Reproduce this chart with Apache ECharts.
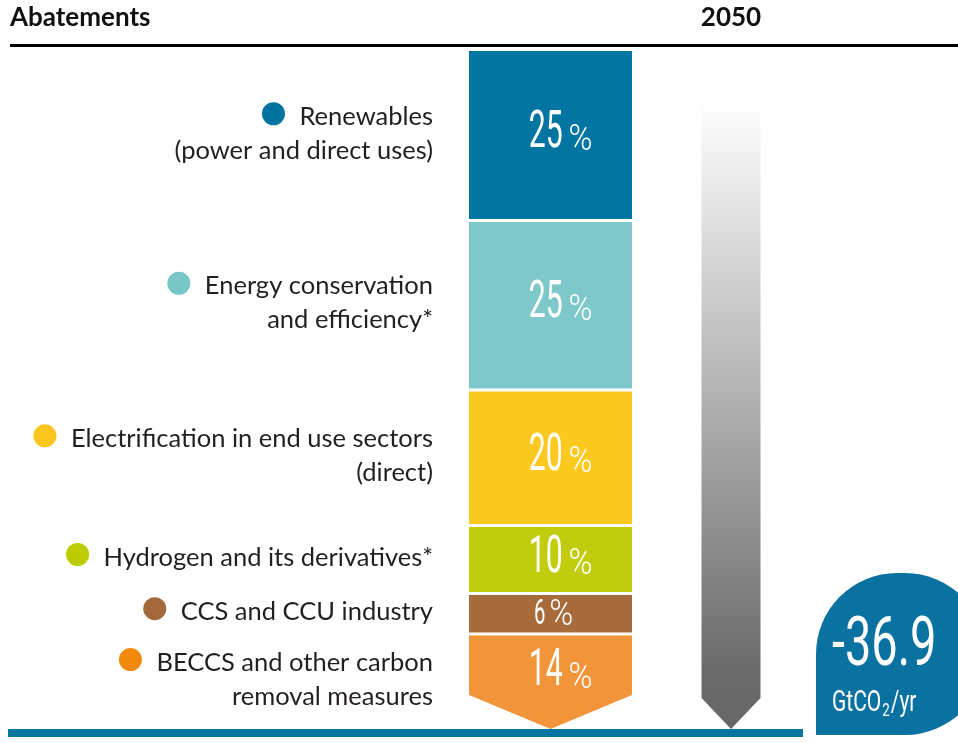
<!DOCTYPE html>
<html><head><meta charset="utf-8">
<script src="https://cdn.jsdelivr.net/npm/echarts@6/dist/echarts.min.js"></script>
<style>html,body{margin:0;padding:0;background:#fff;}#chart{width:958px;height:743px;}</style>
</head><body><div id="chart"></div>
<script>
// ---- data ----
const categories = [
  'Renewables\n(power and direct uses)',
  'Energy conservation\nand efficiency*',
  'Electrification in end use sectors\n(direct)',
  'Hydrogen and its derivatives*',
  'CCS and CCU industry',
  'BECCS and other carbon\nremoval measures'
];
const shares = [25, 25, 20, 10, 6, 14];
const barColors = ['#0175a2', '#7ec8c9', '#fdc91e', '#c1cd0c', '#a86b3b', '#f29439'];
const dotColors = ['#0073a0', '#79c6c7', '#fcc51d', '#bdcc00', '#a3683b', '#f18a0c'];
const headerLeft = 'Abatements';
const yearLabel = '2050';
const totalValue = '-36.9';
const totalUnit = ['GtCO', '2', '/yr'];

// ---- helpers ----
const cumStart = []; let acc = 0;
shares.forEach(s => { cumStart.push(acc); acc += s; });
const segData = shares.map((s, i) => [0, cumStart[i], cumStart[i] + s, i]);

const mctx = document.createElement('canvas').getContext('2d');
function tw(text, size, family, weight) {
  mctx.font = (weight || 'normal') + ' ' + size + 'px ' + family;
  return mctx.measureText(text).width;
}
const TEXT = '#231f20';
const LABEL_FAMILY = 'Lato';
const LABEL_SIZE = 25.5;
const NUM_FAMILY = 'Roboto';
const CH = 34; // chevron height

function renderSeg(params, api) {
  const i = api.value(3);
  const p0 = api.coord([0, api.value(1)]);
  const p1 = api.coord([0, api.value(2)]);
  const bw = api.size([1, 0])[0];
  const cx = p0[0], x0 = cx - bw / 2, x1 = cx + bw / 2;
  const last = i === shares.length - 1;
  const top = p0[1] + (i > 0 ? 1.5 : 0);
  const bot = p1[1] - (last ? 0 : 1.5);
  const children = [];
  if (last) {
    children.push({type: 'polygon', shape: {points: [[x0, top], [x1, top], [x1, bot - CH], [cx, bot], [x0, bot - CH]]},
      style: {fill: barColors[i]}});
  } else {
    children.push({type: 'rect', shape: {x: x0, y: top, width: bw, height: bot - top}, style: {fill: barColors[i]}});
  }
  // percent label
  const small = (bot - top) < 50;
  const dSize = small ? 35 : 52, pSize = 36, sx = 0.58, psx = 0.9;
  const midY = last ? (top + bot) / 2 - 10 : (top + bot) / 2 + (small ? 2 : -1);
  const baseY = midY + 0.355 * dSize;
  const digits = String(shares[i]);
  const dw = tw(digits, dSize, NUM_FAMILY) * sx;
  const pw = tw('%', pSize, NUM_FAMILY) * psx;
  const gap = small ? 4 : 6;
  const off = small ? 3 : 10;
  const start = cx + off - (dw + gap + pw) / 2;
  children.push({type: 'text', x: start, y: midY, scaleX: sx,
    style: {text: digits, fill: '#ffffff', fontSize: dSize, fontFamily: NUM_FAMILY, align: 'left', verticalAlign: 'middle'}});
  children.push({type: 'text', x: start + dw + gap, y: baseY - 0.33 * pSize, scaleX: psx,
    style: {text: '%', fill: '#ffffff', fontSize: pSize, fontFamily: NUM_FAMILY, fontWeight: 300, align: 'left', verticalAlign: 'middle'}});
  // left label
  const lines = categories[i].split('\n');
  const lineH = 34;
  const cy = (p0[1] + p1[1]) / 2 - 2;
  const firstY = cy - (lines.length - 1) * lineH / 2;
  const rx = x0 - 36;
  lines.forEach((ln, k) => {
    children.push({type: 'text', x: rx, y: firstY + k * lineH,
      style: {text: ln, fill: TEXT, fontSize: LABEL_SIZE, fontFamily: LABEL_FAMILY, align: 'right', verticalAlign: 'middle'}});
  });
  const w1 = tw(lines[0], LABEL_SIZE, LABEL_FAMILY);
  children.push({type: 'circle', shape: {cx: rx - w1 - 26, cy: firstY - 3, r: 11.5}, style: {fill: dotColors[i]}});
  return {type: 'group', children};
}

function renderArrow(params, api) {
  const tip = api.coord([0, api.value(1)]);
  const topY = api.coord([0, 0])[1] + 50;
  const cx = tip[0] + 180.5, hw = 29.5, ch = 31;
  return {type: 'polygon',
    shape: {points: [[cx - hw, topY], [cx + hw, topY], [cx + hw, tip[1] - ch], [cx, tip[1]], [cx - hw, tip[1] - ch]]},
    style: {fill: new echarts.graphic.LinearGradient(0, 0, 0, 1, [
      {offset: 0, color: '#ffffff'}, {offset: 0.45, color: '#b5b5b5'}, {offset: 0.9, color: '#6c6c6c'}, {offset: 1, color: '#666666'}])}};
}

const chart = echarts.init(document.getElementById('chart'), null, {renderer: 'canvas'});
const uSize = 30, uSx = 0.7;
const uw0 = tw(totalUnit[0], uSize, NUM_FAMILY) * uSx;
const uw1 = tw(totalUnit[1], 19, NUM_FAMILY) * uSx;
chart.setOption({
  animation: false,
  grid: {left: 469, right: 326, top: 51, bottom: 14},
  xAxis: {type: 'category', data: [yearLabel], show: false},
  yAxis: {type: 'value', min: 0, max: 100, inverse: true, show: false},
  series: [
    {type: 'custom', renderItem: renderArrow, data: [[0, 100]], clip: false, silent: true, z: 1},
    {type: 'custom', renderItem: renderSeg, data: segData, clip: false, z: 2}
  ],
  graphic: [
    {type: 'text', x: 10, y: 18, style: {text: headerLeft, fill: '#111', fontSize: 26, fontWeight: 'bold', fontFamily: LABEL_FAMILY, align: 'left', verticalAlign: 'middle'}},
    {type: 'text', x: 731, y: 18, style: {text: yearLabel, fill: '#111', fontSize: 26, fontWeight: 'bold', fontFamily: LABEL_FAMILY, align: 'center', verticalAlign: 'middle'}},
    {type: 'rect', shape: {x: 10, y: 44, width: 948, height: 3}, style: {fill: '#000'}},
    {type: 'rect', shape: {x: 8, y: 729, width: 795, height: 8}, style: {fill: '#0a74a1'}, z: 0},
    {type: 'rect', shape: {x: 816, y: 573, width: 170, height: 162, r: [81, 81, 81, 0]}, style: {fill: '#0a72a0'}},
    {type: 'text', x: 832, y: 648, scaleX: 0.68, style: {text: totalValue, fill: '#fff', fontSize: 69, fontFamily: NUM_FAMILY, align: 'left', verticalAlign: 'middle'}},
    {type: 'text', x: 832, y: 703, scaleX: uSx, style: {text: totalUnit[0], fill: '#fff', fontSize: uSize, fontFamily: NUM_FAMILY, align: 'left', verticalAlign: 'middle'}},
    {type: 'text', x: 832 + uw0 + 1, y: 711, scaleX: uSx, style: {text: totalUnit[1], fill: '#fff', fontSize: 19, fontFamily: NUM_FAMILY, align: 'left', verticalAlign: 'middle'}},
    {type: 'text', x: 832 + uw0 + uw1 + 2, y: 703, scaleX: uSx, style: {text: totalUnit[2], fill: '#fff', fontSize: uSize, fontFamily: NUM_FAMILY, align: 'left', verticalAlign: 'middle'}}
  ]
});
</script></body></html>
